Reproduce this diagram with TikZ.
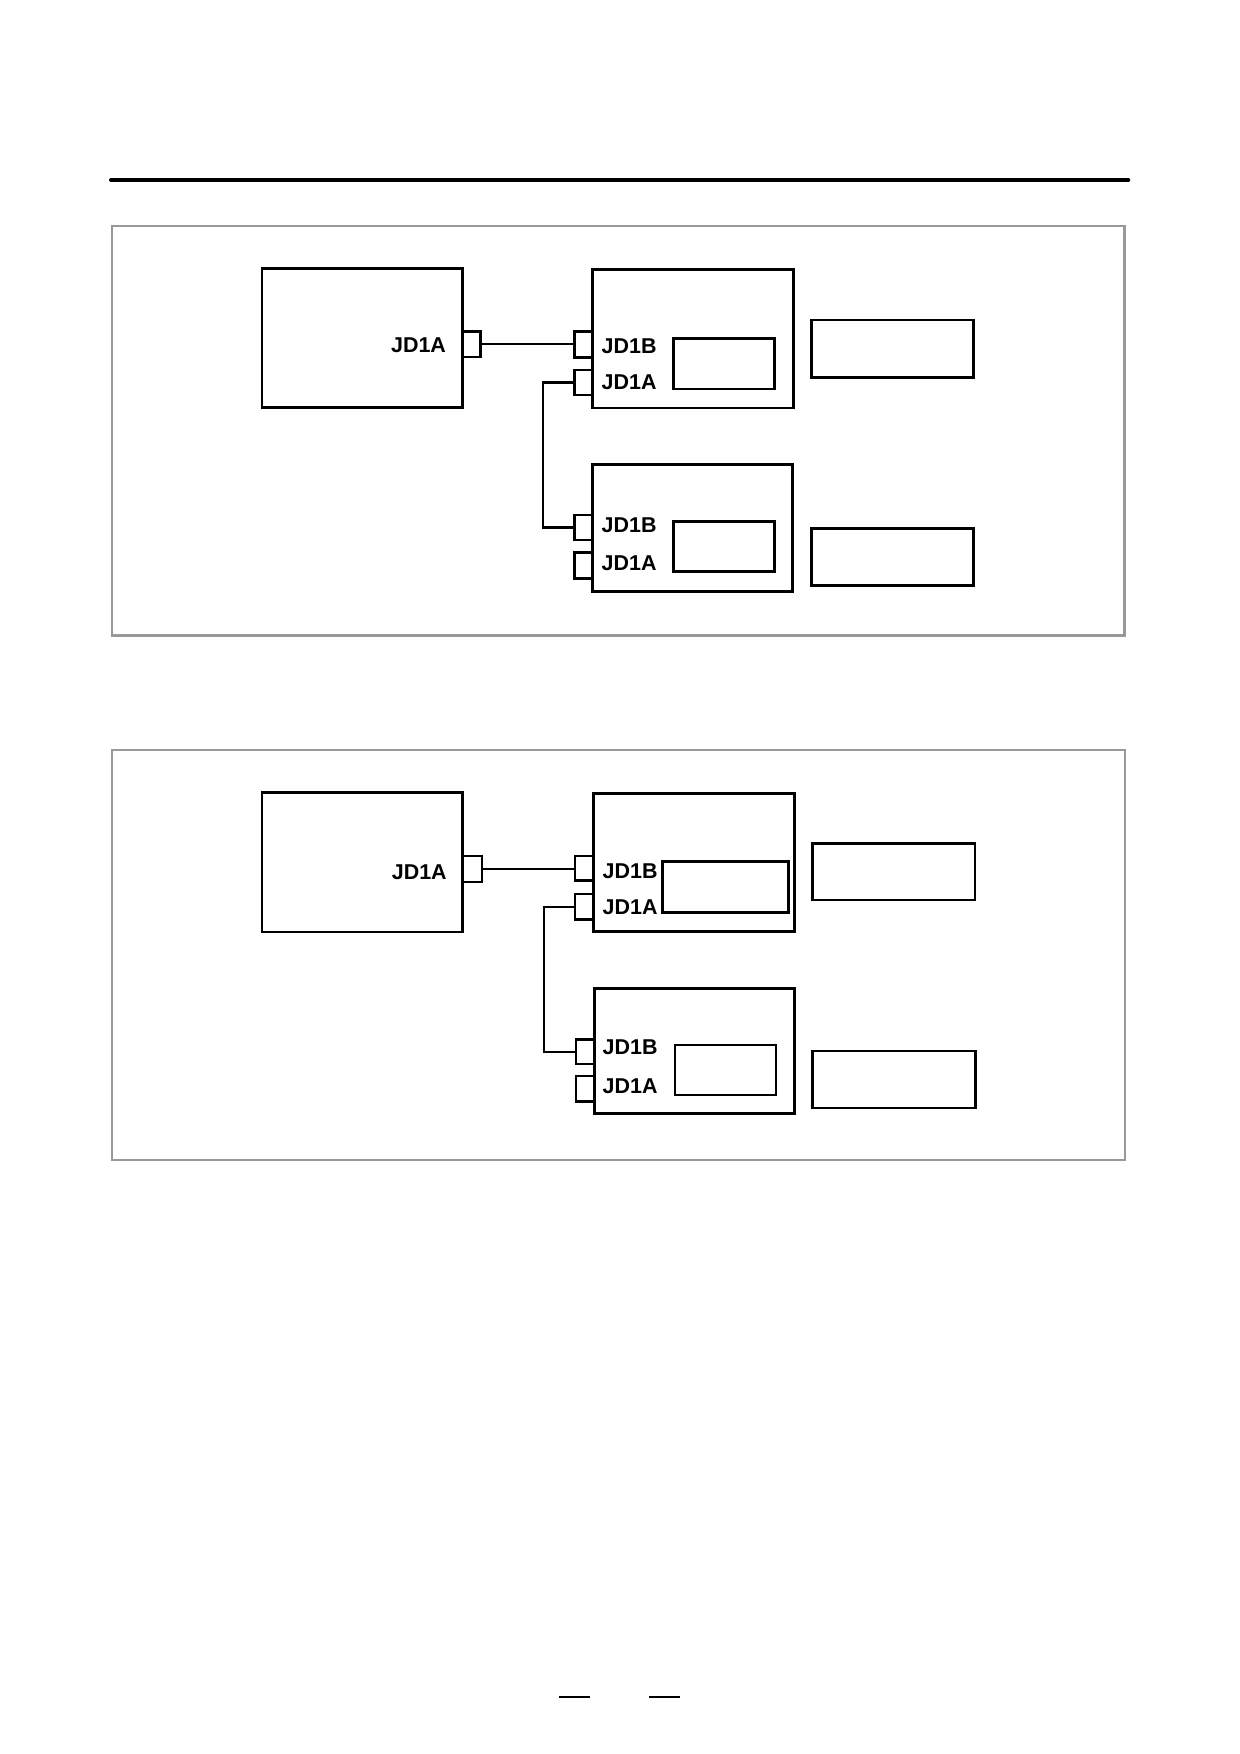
\documentclass[tikz,border=0pt]{standalone}
\usepackage{fontspec}
\setmainfont{Liberation Sans}
\usetikzlibrary{fit}
\tikzset{
  box/.style={draw=black, line width=1.2bp, inner sep=0pt, outer sep=0pt, rectangle},
  frame/.style={draw=black!40, line width=1bp, inner sep=0pt, outer sep=0pt, rectangle},
  wire/.style={draw=black, line width=1bp},
  lbl/.style={inner sep=0pt, outer sep=0pt, font=\fontsize{10.3bp}{12bp}\selectfont\bfseries},
}
\newcommand\bx[6][box]{\node[#1, fit={(#3,#4) (#5,#6)}] (#2) {};}
\begin{document}
\begin{tikzpicture}[x=0.48bp, y=-0.48bp]
\useasboundingbox (0,0) rectangle (1239,1754);
% top rule
\coordinate (ruleL) at (111,180);
\coordinate (ruleR) at (1128.3,180);
\draw[line width=1.9bp, line cap=round] (ruleL) -- (ruleR);

% ===== panel 1 =====
\bx[frame]{f1}{112.3}{225.7}{1124.5}{635.5}
\bx{m1}{262}{268.3}{462.3}{407.3}
\bx{m1c}{462.3}{331.5}{480.7}{357}
\node[lbl, anchor=base east] (m1l) at (446,352.7) {JD1A};
\bx{a1}{592.7}{269.3}{793.3}{408}
\bx{a1B}{574.3}{331.3}{592.7}{357.3}
\bx{a1A}{574.3}{370}{592.7}{395}
\bx{a1i}{673.3}{338.7}{774.3}{389}
\bx{a1r}{811.7}{320}{973.3}{377.3}
\node[lbl, anchor=base west] (a1Bl) at (601.7,353.3) {JD1B};
\node[lbl, anchor=base west] (a1Al) at (601.7,389) {JD1A};
\bx{b1}{592.7}{464.7}{792.7}{591.3}
\bx{b1B}{574.3}{515}{592.7}{540}
\bx{b1A}{574.3}{552.7}{592.7}{578.3}
\bx{b1i}{673.3}{521.7}{774.3}{571.7}
\bx{b1r}{811.5}{528.3}{973.5}{585.7}
\node[lbl, anchor=base west] (b1Bl) at (601.7,532.7) {JD1B};
\node[lbl, anchor=base west] (b1Al) at (601.7,570.3) {JD1A};
\draw[wire] (m1c.east) -- (m1c.east -| a1B.west);
\draw[wire] (a1A.west) -- ++(-31.6,0) |- (b1B.west);

% ===== panel 2 =====
\bx[frame]{f2}{112.3}{750}{1125}{1160}
\bx{m2}{262}{792.7}{462.7}{932}
\bx{m2c}{462.7}{856}{482}{882}
\node[lbl, anchor=base east] (m2l) at (446.7,879.7) {JD1A};
\bx{a2}{593.7}{793.3}{794.3}{931.7}
\bx{a2B}{575}{856}{593.7}{880.7}
\bx{a2A}{575}{894}{593.7}{919.3}
\bx{a2i}{662.3}{861.7}{788.3}{912.7}
\bx{a2r}{812.3}{843.3}{975}{900}
\node[lbl, anchor=base west] (a2Bl) at (602.7,878) {JD1B};
\node[lbl, anchor=base west] (a2Al) at (602.7,914) {JD1A};
\bx{b2}{594.3}{988.3}{794.7}{1113.3}
\bx{b2B}{576}{1039.3}{594.3}{1064}
\bx{b2A}{576}{1076}{594.3}{1101.7}
\bx{b2i}{675}{1045}{776}{1095}
\bx{b2r}{812.7}{1051}{975.7}{1108}
\node[lbl, anchor=base west] (b2Bl) at (602.7,1054.7) {JD1B};
\node[lbl, anchor=base west] (b2Al) at (602.7,1093) {JD1A};
\draw[wire] (m2c.east) -- (m2c.east -| a2B.west);
\draw[wire] (a2A.west) -- ++(-31,0) |- (b2B.west);

% page-number dashes
\coordinate (d1a) at (559.3,1697.3);
\coordinate (d1b) at (590,1697.3);
\coordinate (d2a) at (649.3,1697.3);
\coordinate (d2b) at (680,1697.3);
\draw[line width=1bp] (d1a) -- (d1b);
\draw[line width=1bp] (d2a) -- (d2b);
\end{tikzpicture}
\end{document}
